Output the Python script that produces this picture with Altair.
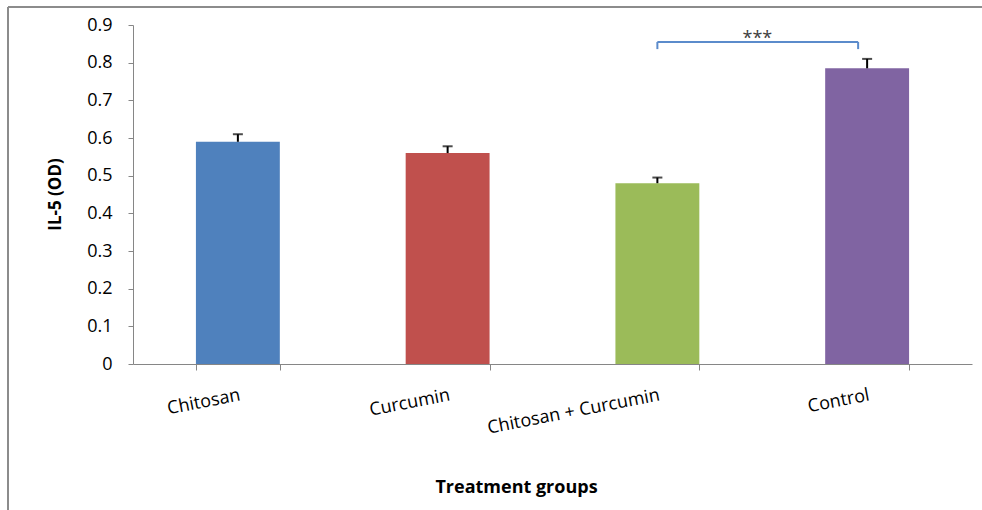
import altair as alt
import pandas as pd

# IL-5 optical density per treatment group (mean and error)
groups = ["Chitosan", "Curcumin", "Chitosan + Curcumin", "Control"]
il5_od = [0.59, 0.56, 0.48, 0.785]
il5_err = [0.02, 0.018, 0.015, 0.025]
bar_colors = ["#4F81BD", "#C0504D", "#9BBB59", "#8064A2"]
y_ticks = [0, 0.1, 0.2, 0.3, 0.4, 0.5, 0.6, 0.7, 0.8, 0.9]

# significance bracket between the combined treatment and the control
bracket_from = ["Chitosan + Curcumin"]
bracket_to = ["Control"]
bracket_top = [0.855]
bracket_foot = [0.836]
bracket_label = ["***"]

FONT = "Open Sans"
W, H = 839, 339

bars_df = pd.DataFrame({
    "group": groups,
    "value": il5_od,
    "err": il5_err,
})
bars_df["top"] = bars_df["value"] + bars_df["err"]

bracket_df = pd.DataFrame({
    "from": bracket_from,
    "to": bracket_to,
    "top": bracket_top,
    "foot": bracket_foot,
    "label": bracket_label,
})

x_scale = alt.Scale(domain=groups, paddingInner=0.6, paddingOuter=0.3)
y_scale = alt.Scale(domain=[0, 0.9], nice=False, zero=True)

x_axis = alt.Axis(
    title="Treatment groups",
    labelAngle=349,
    labelAlign="right",
    labelBaseline="top",
    labelPadding=16,
    labelFontSize=18,
    labelColor="#000000",
    labelOverlap=False,
    labelLimit=0,
    tickSize=6,
    tickBand="extent",
    titleFontSize=18,
    titleFontWeight="bold",
    titleX=383,
    titleY=123,
    titleBaseline="middle",
    titleAlign="center",
)
y_axis = alt.Axis(
    title="IL-5 (OD)",
    values=y_ticks,
    tickCount=10,
    labelExpr="datum.value == 0 ? '0' : format(datum.value, '.1f')",
    tickSize=5,
    labelPadding=16,
    labelFontSize=18,
    labelColor="#000000",
    labelOverlap=False,
    labelFlush=False,
    labelBound=False,
    grid=False,
    titleFontSize=17,
    titleFontWeight="bold",
    titleAngle=270,
    titleX=-78,
    titleY=169,
    titleBaseline="middle",
    titleAlign="center",
)


def X(field):
    return alt.X(field, scale=x_scale, axis=x_axis)


def Y(field):
    return alt.Y(field, scale=y_scale, axis=y_axis)


base = alt.Chart(bars_df)

bars = base.mark_bar().encode(
    x=X("group:N"),
    y=Y("value:Q"),
    color=alt.Color("group:N", scale=alt.Scale(domain=groups, range=bar_colors), legend=None),
)

err_line = base.mark_rule(color="#000000", strokeWidth=2).encode(
    x=X("group:N"),
    y=Y("value:Q"),
    y2="top:Q",
)

err_cap = base.mark_tick(color="#000000", size=10, thickness=2).encode(
    x=X("group:N"),
    y=Y("top:Q"),
)

bk = alt.Chart(bracket_df)
bracket_color = "#5B8BCB"

bracket_bar = bk.mark_rule(color=bracket_color, strokeWidth=2, x2Offset=-9).encode(
    x=X("from:N"),
    x2="to:N",
    y=Y("top:Q"),
)
bracket_left = bk.mark_rule(color=bracket_color, strokeWidth=2).encode(
    x=X("from:N"),
    y=Y("foot:Q"),
    y2="top:Q",
)
bracket_right = bk.mark_rule(color=bracket_color, strokeWidth=2, xOffset=-9).encode(
    x=X("to:N"),
    y=Y("foot:Q"),
    y2="top:Q",
)
bracket_text = bk.mark_text(
    font=FONT, fontSize=18, color="#404040", baseline="bottom", dx=100, dy=6
).encode(
    x=X("from:N"),
    y=Y("top:Q"),
    text="label:N",
)

# outer frame lines of the figure (top and left edges)
frame_df = pd.DataFrame({"k": [0]})
frame_top = alt.Chart(frame_df).mark_rule(color="#8C8C8C", strokeWidth=2).encode(
    x=alt.value(-125), x2=alt.value(W + 12), y=alt.value(-18)
)
frame_left = alt.Chart(frame_df).mark_rule(color="#8C8C8C", strokeWidth=2).encode(
    x=alt.value(-125), y=alt.value(-18), y2=alt.value(H + 150)
)

chart = alt.layer(
    bars, err_line, err_cap,
    bracket_bar, bracket_left, bracket_right, bracket_text,
    frame_top, frame_left,
).properties(
    width=W,
    height=H,
    autosize=alt.AutoSizeParams(type="none"),
    padding={"left": 133, "top": 25, "right": 10, "bottom": 146},
    background="#FFFFFF",
).configure_view(
    stroke=None
).configure_axis(
    labelFont=FONT,
    titleFont=FONT,
    domainColor="#868686",
    tickColor="#868686",
    titleColor="#000000",
)

chart.save("out.html", embed_options={"renderer": "svg", "actions": False})
